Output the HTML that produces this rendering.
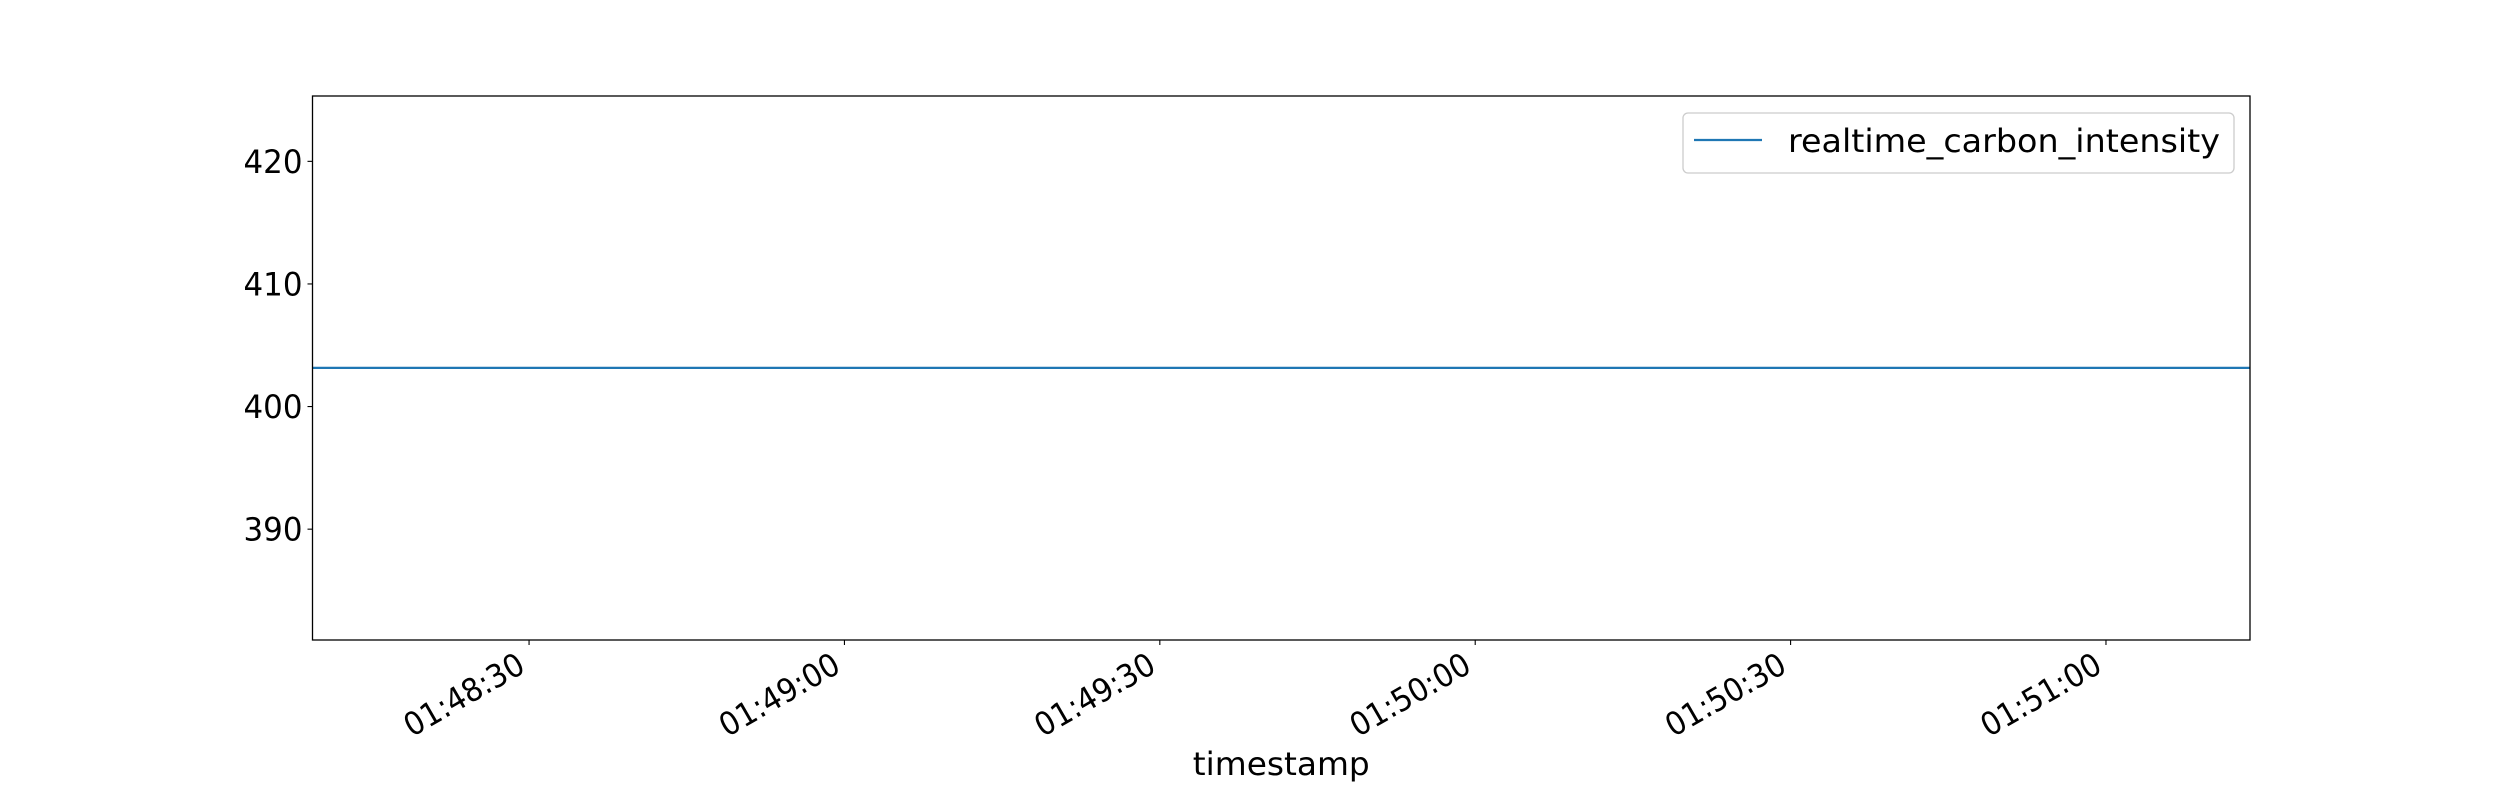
<!DOCTYPE html>
<html><head><meta charset="utf-8">
<style>
html,body{margin:0;padding:0;background:#fff;}
svg{display:block;font-family:"DejaVu Sans","Liberation Sans",sans-serif;}
</style></head>
<body>
<svg id="chart" width="2500" height="800" viewBox="0 0 2500 800" xmlns="http://www.w3.org/2000/svg">
<defs><clipPath id="axclip"><rect x="312.5" y="96" width="1937.5" height="544"/></clipPath></defs>
<rect x="0" y="0" width="2500" height="800" fill="#fff"/>
<g id="plot"></g>
</svg>
<script>
const timestamps = ["01:48:09", "01:51:14"];
const seriesValues = [403.15, 403.15];
const yTickValues = [390, 400, 410, 420];
const xTickLabels = ["01:48:30", "01:49:00", "01:49:30", "01:50:00", "01:50:30", "01:51:00"];
const seriesName = "realtime_carbon_intensity";

const L = 312.5, R = 2250, T = 96, B = 640;
const yMin = 380.96, yMax = 425.33;
const xMinS = 6489.4, xMaxS = 6673.7;
function toSec(s){const p=s.split(':').map(Number);return p[0]*3600+p[1]*60+p[2];}
function xs(s){return L+(toSec(s)-xMinS)/(xMaxS-xMinS)*(R-L);}
function ys(v){return B-(v-yMin)/(yMax-yMin)*(B-T);}
const NS="http://www.w3.org/2000/svg";
const plot=document.getElementById('plot');
function mk(tag,attrs,parent){const e=document.createElementNS(NS,tag);for(const k in attrs)e.setAttribute(k,attrs[k]);(parent||plot).appendChild(e);return e;}

// series line
const pts=timestamps.map((t,i)=>xs(t).toFixed(1)+','+ys(seriesValues[i]).toFixed(1)).join(' ');
const line=mk('polyline',{points:pts,fill:'none',stroke:'#1f77b4','stroke-width':2.3,'clip-path':'url(#axclip)'});



// axes frame
const frame=mk('rect',{x:L,y:T,width:R-L,height:B-T,fill:'none',stroke:'#000','stroke-width':1.3});



// y ticks
yTickValues.forEach(v=>{
  const y=ys(v);
  const tk=mk('line',{x1:L-5,x2:L,y1:y,y2:y,stroke:'#000','stroke-width':1.1});
  
  
  const tx=mk('text',{x:L-10,y:y+11.5,'text-anchor':'end','font-size':32,fill:'#000',textLength:59,lengthAdjust:'spacingAndGlyphs'});
  tx.textContent=String(v);
  
  
});

// x ticks
xTickLabels.forEach(lab=>{
  const x=xs(lab);
  const tk=mk('line',{x1:x,x2:x,y1:B,y2:B+5,stroke:'#000','stroke-width':1.1});
  
  
  const ax=x-2, ay=B+31;
  const tx=mk('text',{x:ax,y:ay,'text-anchor':'end','font-size':32,fill:'#000',textLength:133,lengthAdjust:'spacingAndGlyphs',transform:`rotate(-30 ${ax} ${ay})`});
  tx.textContent=lab;
  
  
});

// x axis title
const xt=mk('text',{x:(L+R)/2,y:775,'text-anchor':'middle','font-size':32,fill:'#000',textLength:177,lengthAdjust:'spacingAndGlyphs'});
xt.textContent='timestamp';



// legend
const lg=mk('g',{});


const box=mk('rect',{x:1683,y:113,width:551,height:60,rx:5,fill:'#fff','fill-opacity':0.8,stroke:'#ccc','stroke-width':1.3},lg);


const ll=mk('line',{x1:1694,x2:1762,y1:140,y2:140,stroke:'#1f77b4','stroke-width':2.3},lg);


const lt=mk('text',{x:1788,y:152,'font-size':32,fill:'#000',textLength:432,lengthAdjust:'spacingAndGlyphs'},lg);
lt.textContent=seriesName;


</script>
</body></html>
